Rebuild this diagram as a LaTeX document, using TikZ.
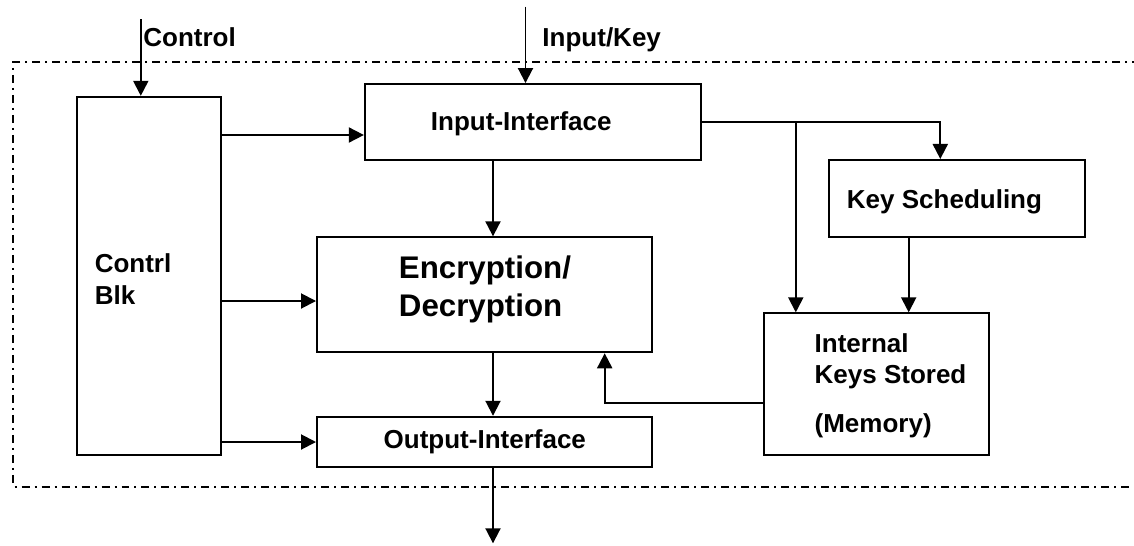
\documentclass[tikz,border=0pt]{standalone}
\usepackage{fontspec}
\setmainfont{Liberation Sans}
\usetikzlibrary{arrows.meta}

\begin{document}
\begin{tikzpicture}[x=0.02cm,y=-0.02cm,line width=1.1pt,
    >={Triangle[length=0.3cm,width=0.3cm]},
    blk/.style={draw,inner sep=0pt},
    lbl/.style={anchor=base west,inner sep=0pt,align=left,
      font=\bfseries\fontsize{14.8}{18}\selectfont},
    big/.style={font=\bfseries\fontsize{17.8}{21.8}\selectfont}]
  \useasboundingbox (0,0) rectangle (1134,545);
  \draw[dash pattern=on 0.16cm off 0.1cm on 0.04cm off 0.1cm]
    (1140,61.7) -- (13.4,61.7) -- (13.4,486.7) -- (1140,486.7);

  \node (cb) [blk,minimum width=2.894cm,minimum height=7.166cm] at (148.9,275.9) {};
  \node (ii) [blk,minimum width=6.72cm,minimum height=1.52cm] at (532.8,122) {};
  \node (ed) [blk,minimum width=6.71cm,minimum height=2.3cm] at (484.7,294.8) {};
  \node (oi) [blk,minimum width=6.71cm,minimum height=1.01cm] at (484.7,442) {};
  \node (ks) [blk,minimum width=5.12cm,minimum height=1.55cm] at (956.7,198.7) {};
  \node (ik) [blk,minimum width=4.49cm,minimum height=2.84cm] at (876.5,384.3) {};

  \node (ctl) [lbl] at (142.4,46.7) {Control};
  \node (ink) [lbl] at (541.5,46.7) {Input/Key};
  \node (cbt) [lbl] at (93.8,304.3) {Contrl\\Blk};
  \node (iit) [lbl] at (430,130.5) {Input-Interface};
  \node (edt) [lbl,big] at (398,316.7) {Encryption/\\Decryption};
  \node (oit) [lbl] at (382.7,448.3) {Output-Interface};
  \node (kst) [lbl] at (846,208.3) {Key Scheduling};
  \node (ikt) [lbl] at (813.7,432.3) {Internal\\Keys Stored\\[9.5pt](Memory)};

  \coordinate (ctlin) at (140.8,19);
  \coordinate (keyin) at (525.5,6.7);
  \coordinate (sp) at (493,0);
  \coordinate (out) at (493,543.3);

  \draw[->] (ctlin) -- (ctlin |- cb.north);
  \draw[->] (keyin) -- (keyin |- ii.north);
  \draw[<-] ([shift={(0,13)}]ii.west) coordinate (a1) -- (a1 -| cb.east);
  \draw[<-] ([shift={(0,6.2)}]ed.west) coordinate (a2) -- (a2 -| cb.east);
  \draw[<-] (oi.west) -- (oi.west -| cb.east);
  \draw[->] (sp |- ii.south) -- (sp |- ed.north);
  \draw[->] (sp |- ed.south) -- (sp |- oi.north);
  \draw[->] (sp |- oi.south) -- (out);
  \draw[->] (ii.east) -| ([shift={(-16.4,0)}]ks.north);
  \draw[<-] ([shift={(-80.7,0)}]ik.north) coordinate (a3) -- (a3 |- ii.east);
  \draw[->] ([shift={(-48,0)}]ks.south) coordinate (a4) -- (a4 |- ik.north);
  \draw[->] ([shift={(0,19)}]ik.west) -| ([shift={(120,0)}]ed.south);
\end{tikzpicture}
\end{document}
